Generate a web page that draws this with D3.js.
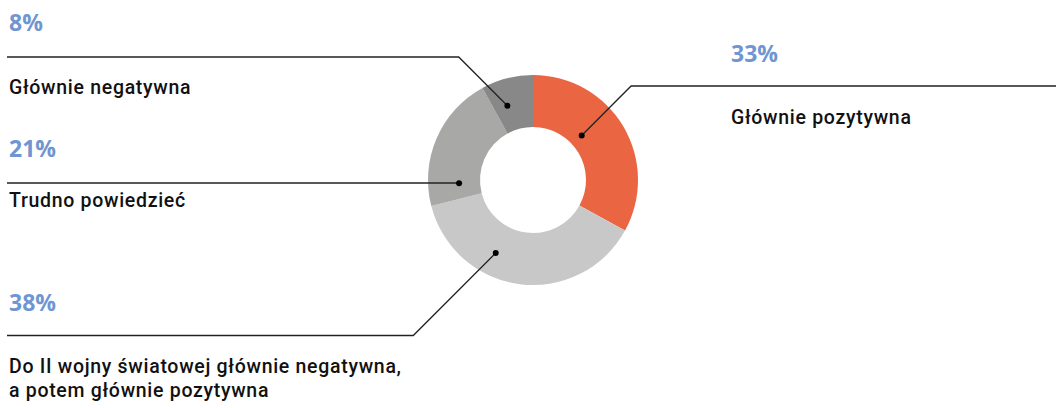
<!DOCTYPE html>
<html>
<head>
<meta charset="utf-8">
<script src="https://cdn.jsdelivr.net/npm/d3@7"></script>
<style>
    body { margin: 0; background: #fff; }
    .pct { font-family: "Open Sans", sans-serif; font-weight: 700; font-size: 23px; fill: #6f95d2; }
    .lbl { font-family: Roboto, sans-serif; font-weight: 500; font-size: 19.5px; fill: #111; letter-spacing: 0.7px; }
</style>
</head>
<body>
<div id="chart"></div>
<script>
// slice categories, clockwise from 12 o'clock
const categories = [
    'Głównie pozytywna',
    'Do II wojny światowej głównie negatywna,|a potem głównie pozytywna',
    'Trudno powiedzieć',
    'Głównie negatywna'
];
const values = [33, 38, 21, 8];
const pctLabels = ['33%', '38%', '21%', '8%'];
const colors = ['#ea6542', '#c8c8c8', '#a8a8a6', '#888888'];

// where the callouts sit (leader line height, text baselines, anchor inside slice)
const layout = [
    { side: 'right', lineY: 86,  pctY: 62,  textY: 124, frac: 0.40, r: 66 },
    { side: 'left',  lineY: 335.5, pctY: 311, textY: 373, frac: 0.645, r: 82 },
    { side: 'left',  lineY: 183, pctY: 157, textY: 207, frac: 0.157, r: 74 },
    { side: 'left',  lineY: 57,  pctY: 31,  textY: 94,  frac: 0.34, r: 78.6 }
];

const W = 1056, H = 408;
const cx = 533, cy = 180, rOuter = 105, rInner = 53;

const svg = d3.select('#chart').append('svg')
    .attr('width', W)
    .attr('height', H);

const pie = d3.pie().sort(null).value(d => d.value);
const arc = d3.arc().innerRadius(rInner).outerRadius(rOuter);

const data = categories.map((c, i) => ({ name: c, value: values[i], pct: pctLabels[i], color: colors[i], lay: layout[i] }));
const arcs = pie(data);

const g = svg.append('g').attr('transform', `translate(${cx},${cy})`);

g.selectAll('path.slice')
    .data(arcs)
    .enter().append('path')
    .attr('class', 'slice')
    .attr('d', arc)
    .attr('fill', d => d.data.color);

// callouts
arcs.forEach(a => {
    const lay = a.data.lay;
    const ang = a.startAngle + lay.frac * (a.endAngle - a.startAngle);
    const px = cx + lay.r * Math.sin(ang);
    const py = cy - lay.r * Math.cos(ang);
    const dy = Math.abs(py - lay.lineY);
    const ex = lay.side === 'right' ? px + dy : px - dy;
    const endX = lay.side === 'right' ? W : 7;
    const tx = lay.side === 'right' ? 731 : 9;

    svg.append('path')
        .attr('d', d3.line()([[px, py], [ex, lay.lineY], [endX, lay.lineY]]))
        .attr('fill', 'none')
        .attr('stroke', '#222')
        .attr('stroke-width', 1.3);

    svg.append('circle')
        .attr('cx', px)
        .attr('cy', py)
        .attr('r', 3)
        .attr('fill', '#000');

    svg.append('text')
        .attr('class', 'pct')
        .attr('x', tx)
        .attr('y', lay.pctY)
        .text(a.data.pct);

    const lines = a.data.name.split('|');
    const t = svg.append('text')
        .attr('class', 'lbl')
        .attr('x', tx)
        .attr('y', lay.textY);
    lines.forEach((l, i) => {
        t.append('tspan')
            .attr('x', tx)
            .attr('dy', i === 0 ? 0 : 24)
            .text(l);
    });
});
</script>
</body>
</html>
